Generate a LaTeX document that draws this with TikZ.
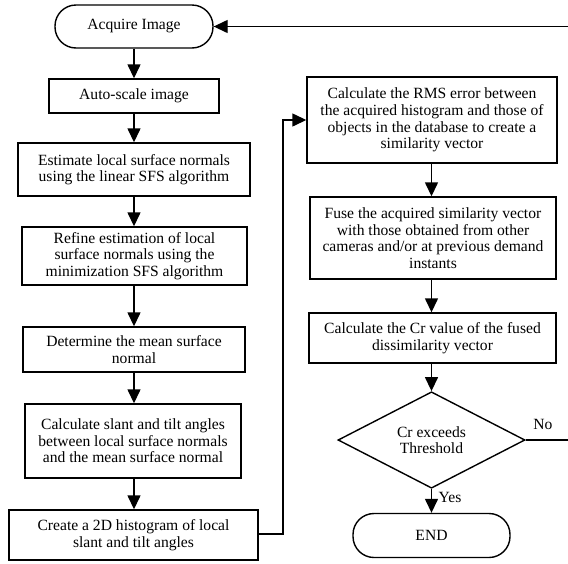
\documentclass[tikz,border=0pt]{standalone}
\usepackage{fontspec}
\setmainfont{Liberation Serif}
\usetikzlibrary{arrows.meta,shapes.geometric}
\begin{document}
\begin{tikzpicture}[x=1pt,y=-1pt,
  every node/.style={font=\fontsize{15.6}{16.6}\selectfont, align=center, inner sep=0pt},
  box/.style={draw, line width=1.4pt, rectangle},
  term/.style={draw, line width=1.4pt, rectangle, rounded corners=21pt},
  dec/.style={draw, line width=1.4pt, diamond},
  flow/.style={line width=1.4pt, -{Triangle[length=14pt,width=13pt]}},
  link/.style={line width=1.4pt}]
\useasboundingbox (0,0) rectangle (568,563);
\node[term, minimum width=158, minimum height=43] (acq) at (134,26.5) {Acquire Image};
\node[box, minimum width=170, minimum height=34] (auto) at (134,96) {Auto-scale image};
\node[box, minimum width=232, minimum height=53] (est) at (134,169.5) {Estimate local surface normals\\using the linear SFS algorithm};
\node[box, minimum width=225, minimum height=58] (ref) at (134.5,256) {Refine estimation of local\\surface normals using the\\minimization SFS algorithm};
\node[box, minimum width=222, minimum height=45] (det) at (134,349.5) {Determine the mean surface\\normal};
\node[box, minimum width=216, minimum height=74] (sla) at (133,441) {Calculate slant and tilt angles\\between local surface normals\\and the mean surface normal};
\node[box, minimum width=249, minimum height=50] (his) at (133.5,535) {Create a 2D histogram of local\\slant and tilt angles};
\node[box, minimum width=250, minimum height=86] (rms) at (432,120) {Calculate the RMS error between\\the acquired histogram and those of\\objects in the database to create a\\similarity vector};
\node[box, minimum width=246, minimum height=82] (fus) at (433,238) {Fuse the acquired similarity vector\\with those obtained from other\\cameras and/or at previous demand\\instants};
\node[box, minimum width=247, minimum height=50] (crv) at (432.5,338) {Calculate the Cr value of the fused\\dissimilarity vector};
\node[dec, minimum width=187, minimum height=86] (thr) at (431.5,440) {Cr exceeds\\Threshold};
\node[term, minimum width=157, minimum height=44] (end) at (431.5,535.5) {END};
\node (no) at (543,424) {No};
\node (yes) at (450,497) {Yes};
\coordinate (h1) at (283,534);
\coordinate (h2) at (283,120);
\coordinate (r1) at (575,440);
\coordinate (r2) at (575,26.5);
\draw[flow] (acq.south -| auto.north) -- (auto.north);
\draw[flow] (auto.south) -- (est.north -| auto.south);
\draw[flow] (est.south -| auto.south) -- (ref.north -| auto.south);
\draw[flow] (ref.south -| auto.south) -- (det.north -| auto.south);
\draw[flow] (det.south -| auto.south) -- (sla.north -| auto.south);
\draw[flow] (sla.south -| auto.south) -- (his.north -| auto.south);
\draw[flow] (his.east |- h1) -- (h1) -- (h2) -- (rms.west |- h2);
\draw[flow] (rms.south -| thr.north) -- (fus.north -| thr.north);
\draw[flow] (fus.south -| thr.north) -- (crv.north -| thr.north);
\draw[flow] (crv.south -| thr.north) -- (thr.north);
\draw[flow] (thr.south) -- (end.north -| thr.south);
\draw[link] (thr.east) -- (r1) -- (r2) -- (acq.east |- r2);
\draw[flow] (r2) -- (acq.east);
\end{tikzpicture}
\end{document}
